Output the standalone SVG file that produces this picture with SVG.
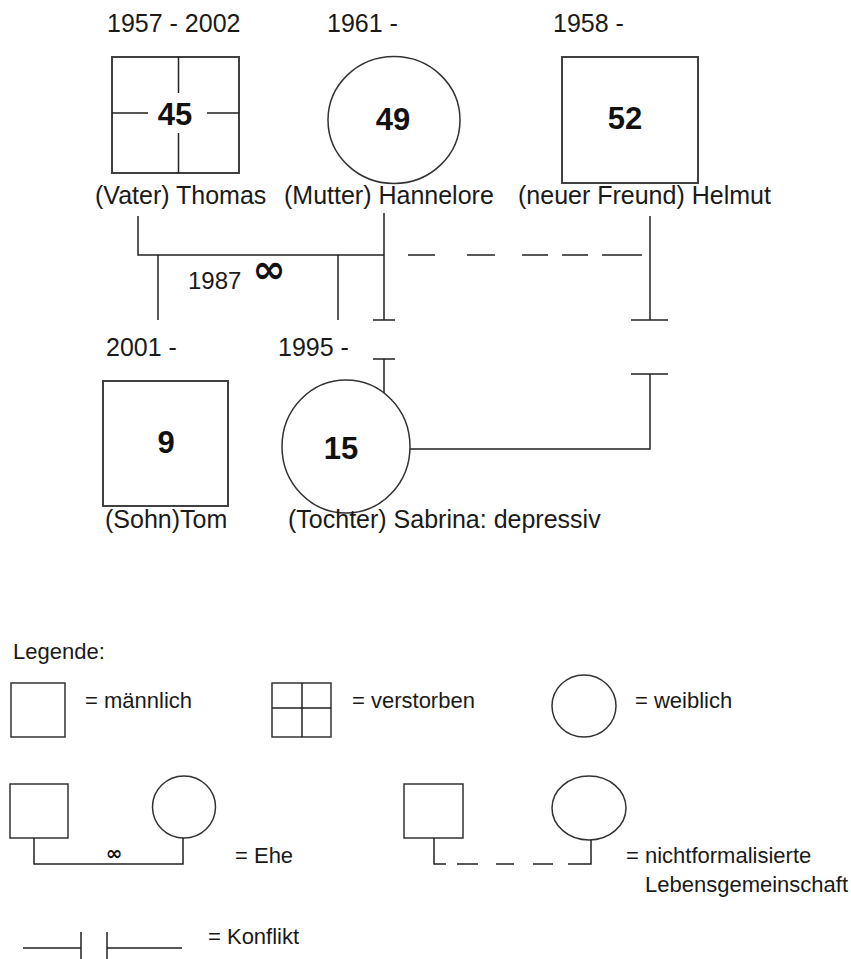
<svg xmlns="http://www.w3.org/2000/svg" width="851" height="959" viewBox="0 0 851 959">
<style>
.t{font-family:"Liberation Sans",Arial,sans-serif;font-size:25px;fill:#1a1a1a}
.l{font-family:"Liberation Sans",Arial,sans-serif;font-size:22px;fill:#1a1a1a}
.n{font-family:"Liberation Sans",Arial,sans-serif;font-size:31px;font-weight:bold;fill:#111;text-anchor:middle}
.inf{font-family:"DejaVu Sans",sans-serif;font-weight:bold;fill:#111;text-anchor:middle}
.box{fill:#fff;stroke:#404040;stroke-width:2}
.circ{fill:#fff;stroke:#333;stroke-width:1.5}
.ln{fill:none;stroke:#222;stroke-width:1.5}
.lbox{fill:#fff;stroke:#333;stroke-width:1.5}
</style>
<rect width="851" height="959" fill="#fff"/>

<g id="connectors">
  <path class="ln" d="M138 216 V255 H384 M384 213 V320 M373 320 H395 M158 255 V320 M338 255 V320"/>
  <path class="ln" d="M408 255 H435 M467 255 H495 M522 255 H548 M562 255 H588 M602 255 H642"/>
  <path class="ln" d="M650 216 V255"/>
  <path class="ln" stroke="#666" d="M650 255 V320"/>
  <path class="ln" d="M631 320 H668"/>
  <path class="ln" d="M373 359 H395 M384 359 V393"/>
  <path class="ln" d="M631 374 H668 M650 374 V449 H410"/>
  <text class="t" x="188" y="289" style="font-size:24px">1987</text>
  <text class="inf" x="269" y="283" font-size="40">∞</text>
</g>

<g id="thomas">
  <text class="t" x="107" y="32">1957 - 2002</text>
  <rect class="box" x="112" y="57" width="127" height="116"/>
  <path class="ln" stroke="#404040" d="M178.5 57 V93 M178.5 133 V173 M112 113 H148 M207 113 H239"/>
  <text class="n" x="175" y="125">45</text>
  <text class="t" x="95" y="204">(Vater) Thomas</text>
</g>

<g id="hannelore">
  <text class="t" x="327" y="32">1961 -</text>
  <ellipse class="circ" cx="394" cy="120" rx="66" ry="63.5"/>
  <text class="n" x="393" y="130">49</text>
  <text class="t" x="284" y="204">(Mutter) Hannelore</text>
</g>

<g id="helmut">
  <text class="t" x="553" y="32">1958 -</text>
  <rect class="box" x="562" y="57" width="136" height="126"/>
  <text class="n" x="625" y="129">52</text>
  <text class="t" x="518" y="204">(neuer Freund) Helmut</text>
</g>

<g id="tom">
  <text class="t" x="106" y="356">2001 -</text>
  <rect class="box" x="103" y="381" width="125" height="125"/>
  <text class="n" x="166" y="453">9</text>
  <text class="t" x="105" y="528">(Sohn)Tom</text>
</g>

<g id="sabrina">
  <text class="t" x="278" y="356">1995 -</text>
  <ellipse class="circ" cx="346" cy="446.5" rx="64" ry="66.5"/>
  <text class="n" x="341" y="459">15</text>
  <text class="t" x="288" y="528">(Tochter) Sabrina: depressiv</text>
</g>

<g id="legend">
  <text class="l" x="13" y="659">Legende:</text>
  <rect class="lbox" x="11" y="683" width="54" height="54"/>
  <text class="l" x="85" y="708">= männlich</text>
  <rect class="lbox" x="272" y="683" width="59" height="54"/>
  <path class="ln" d="M302 683 V737 M272 708 H331"/>
  <text class="l" x="352" y="708">= verstorben</text>
  <ellipse class="circ" cx="584" cy="706" rx="32" ry="31"/>
  <text class="l" x="635" y="708">= weiblich</text>

  <rect class="lbox" x="10" y="784" width="58" height="54"/>
  <ellipse class="circ" cx="184" cy="807" rx="31.5" ry="31"/>
  <path class="ln" d="M34 838 V864 H183 V838"/>
  <text class="inf" x="114" y="860" font-size="20">∞</text>
  <text class="l" x="235" y="863">= Ehe</text>

  <rect class="lbox" x="404" y="784" width="59" height="54"/>
  <ellipse class="circ" cx="589" cy="808" rx="37" ry="32"/>
  <path class="ln" d="M434 838 V864 H446 M457 864 H478 M496 864 H514 M533 864 H553 M568 864 H591 V840"/>
  <text class="l" x="626" y="863">= nichtformalisierte</text>
  <text class="l" x="645" y="892">Lebensgemeinschaft</text>

  <path class="ln" d="M23 948 H81 M81 932 V959 M107 932 V959 M107 948 H182"/>
  <text class="l" x="208" y="944">= Konflikt</text>
</g>
</svg>
